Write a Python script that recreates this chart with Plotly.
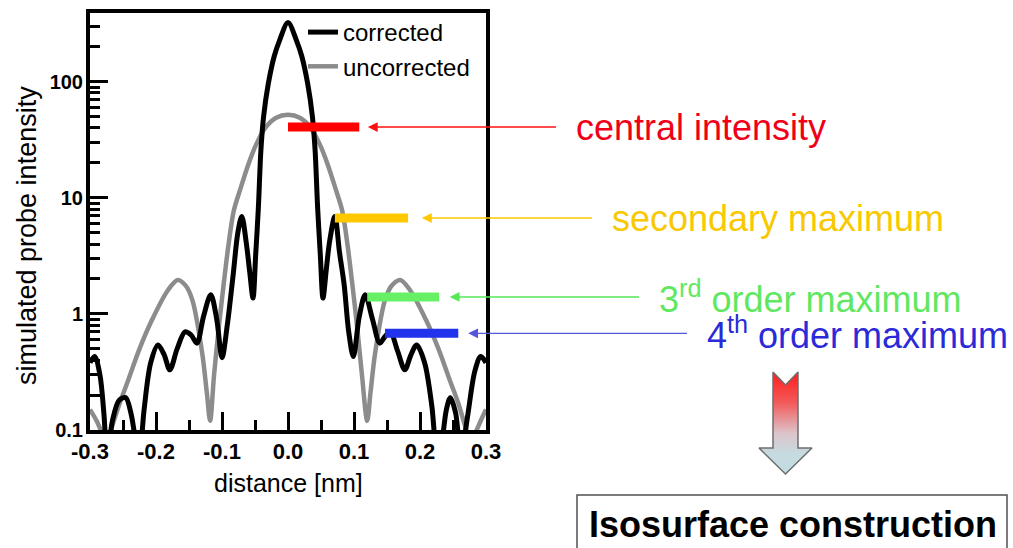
import numpy as np
import plotly.graph_objects as go

W, H = 1013, 548

# ---------------- data ----------------
x_corrected = [-0.300, -0.293, -0.285, -0.279, -0.274, -0.266, -0.256, -0.246, -0.238, -0.231,
               -0.226, -0.218, -0.208, -0.197, -0.188, -0.179, -0.168, -0.156, -0.147, -0.138,
               -0.128, -0.117, -0.108, -0.100, -0.092, -0.083, -0.076, -0.070, -0.063, -0.058,
               -0.053, -0.049, -0.045, -0.041, -0.037, -0.030, -0.021, -0.013, 0.000,
               0.013, 0.021, 0.030, 0.037, 0.041, 0.045, 0.049, 0.053, 0.058, 0.063,
               0.071, 0.078, 0.085, 0.092, 0.099, 0.108, 0.117, 0.128, 0.139, 0.147,
               0.155, 0.166, 0.177, 0.186, 0.195, 0.207, 0.218, 0.226, 0.233, 0.240,
               0.246, 0.254, 0.262, 0.272, 0.283, 0.292, 0.300]
y_corrected = [0.38, 0.43, 0.30, 0.14, 0.06, 0.12, 0.18, 0.19, 0.14, 0.08,
               0.05, 0.15, 0.38, 0.54, 0.45, 0.33, 0.50, 0.70, 0.66, 0.56,
               0.95, 1.46, 0.90, 0.42, 0.80, 2.2, 5.0, 6.9, 4.0, 2.3,
               1.37, 3.2, 8.0, 26, 50, 95, 165, 225, 323,
               225, 165, 95, 50, 26, 8.0, 3.2, 1.37, 2.4, 4.2,
               6.9, 3.4, 1.8, 0.70, 0.43, 0.95, 1.46, 0.90, 0.56, 0.64,
               0.70, 0.48, 0.33, 0.44, 0.54, 0.38, 0.16, 0.06, 0.08, 0.15,
               0.19, 0.14, 0.06, 0.13, 0.32, 0.43, 0.38]

x_uncorrected = [-0.300, -0.290, -0.282, -0.274, -0.266, -0.255, -0.242, -0.225, -0.206, -0.182,
                 -0.167, -0.155, -0.145, -0.130, -0.123, -0.118, -0.112, -0.105, -0.097, -0.090,
                 -0.082, -0.072, -0.060, -0.048, -0.033, -0.018, 0.000,
                 0.018, 0.033, 0.048, 0.060, 0.072, 0.082, 0.090, 0.097, 0.105,
                 0.112, 0.120, 0.125, 0.132, 0.147, 0.157, 0.170, 0.185, 0.209,
                 0.228, 0.245, 0.258, 0.268, 0.276, 0.284, 0.292, 0.300]
y_uncorrected = [0.15, 0.12, 0.095, 0.08, 0.11, 0.17, 0.27, 0.50, 0.89, 1.60,
                 1.96, 1.75, 1.32, 0.46, 0.21, 0.12, 0.30, 0.75, 1.9, 4.0,
                 7.8, 12.0, 19.5, 29, 41, 49, 52,
                 49, 41, 29, 19.5, 12.0, 7.8, 4.0, 1.9, 0.75,
                 0.30, 0.12, 0.21, 0.46, 1.32, 1.75, 1.96, 1.60, 0.89,
                 0.50, 0.27, 0.17, 0.11, 0.08, 0.095, 0.12, 0.15]

marker_labels = ["central intensity", "secondary maximum",
                 "3<sup>rd</sup> order maximum", "4<sup>th</sup> order maximum"]
marker_levels = [40.7, 6.7, 1.40, 0.68]
marker_x_start = [0.000, 0.071, 0.120, 0.147]
marker_x_end = [0.108, 0.182, 0.229, 0.258]
arrow_head_x = [0.121, 0.203, 0.245, 0.273]

x_ticks = [-0.3, -0.2, -0.1, 0.0, 0.1, 0.2, 0.3]
x_ticktext = ["-0.3", "-0.2", "-0.1", "0.0", "0.1", "0.2", "0.3"]
y_ticks = [0.1, 1, 10, 100]
y_ticktext = ["0.1", "1", "10", "100"]

# ---------------- styles / layout geometry ----------------
FONT = "Liberation Sans, Arial, sans-serif"
PX_L, PX_R, PX_T, PX_B = 90, 486, 13, 430
X_RANGE = [-0.3, 0.3]
Y_RANGE = [-1, 2.592]

marker_colors = ["#ff0000", "#ffc800", "#66f066", "#2233ee"]
arrow_colors = ["#ff1010", "#ffc800", "#55e855", "#5555dd"]
text_colors = ["#f00018", "#f8c800", "#5fe85f", "#2a2ad8"]
arrow_tail_px = [556, 592, 639, 687]

def fx(px):
    return px / W

def fy(py):
    return 1 - py / H

fig = go.Figure()

fig.add_trace(go.Scatter(x=x_uncorrected, y=y_uncorrected, mode="lines", name="uncorrected",
                         line=dict(color="#8c8c8c", width=4.5, shape="spline", smoothing=0.9),
                         legendrank=2))
fig.add_trace(go.Scatter(x=x_corrected, y=y_corrected, mode="lines", name="corrected",
                         line=dict(color="#000000", width=5, shape="spline", smoothing=0.9),
                         legendrank=1))

for xs, xe, lv, col in zip(marker_x_start, marker_x_end, marker_levels, marker_colors):
    fig.add_trace(go.Scatter(x=[xs, xe], y=[lv, lv], mode="lines", showlegend=False,
                             line=dict(color=col, width=9), hoverinfo="skip"))

# decorative down arrow (pixel overlay axes)
arrow_outline_x = [773, 785.5, 798, 798, 812, 785.5, 759, 773, 773]
arrow_outline_y = [372, 385, 372, 448, 448, 474, 448, 448, 372]
fig.add_trace(go.Scatter(x=arrow_outline_x, y=arrow_outline_y, xaxis="x2", yaxis="y2",
                         mode="lines", fill="toself", showlegend=False, hoverinfo="skip",
                         line=dict(color="#6e6e6e", width=1.5),
                         fillgradient=dict(type="vertical",
                                           colorscale=[[0, "#c2dde2"], [0.2, "#c6dbe0"],
                                                       [0.4, "#dcc4ca"], [0.7, "#f25a5a"],
                                                       [1, "#ff1c1c"]])))

minor_y = [m * 10.0 ** e for e in range(-1, 3) for m in range(2, 10) if m * 10.0 ** e < 390]

fig.update_layout(
    template="none",
    width=W, height=H,
    margin=dict(l=0, r=0, t=0, b=0, pad=0, autoexpand=False),
    paper_bgcolor="white", plot_bgcolor="rgba(0,0,0,0)",
    font=dict(family=FONT, color="black"),
    showlegend=True,
    legend=dict(x=fx(303), y=fy(10), xanchor="left", yanchor="top",
                bgcolor="rgba(0,0,0,0)", borderwidth=0, font=dict(size=24, family=FONT),
                itemwidth=30, tracegroupgap=0),
    xaxis=dict(domain=[fx(PX_L), fx(PX_R)], anchor="y", range=X_RANGE, automargin=False,
               tickvals=x_ticks, ticktext=x_ticktext,
               ticks="inside", ticklen=18, tickwidth=3, tickcolor="black",
               minor=dict(ticks="inside", ticklen=10, tickwidth=3, tickcolor="black", dtick=0.05),
               showline=True, linewidth=4, linecolor="black", mirror=True,
               showgrid=False, zeroline=False,
               tickfont=dict(size=22, family=FONT, weight="bold"), ticklabelstandoff=-1),
    yaxis=dict(domain=[fy(PX_B), fy(PX_T)], anchor="x", type="log", range=Y_RANGE, automargin=False,
               tickvals=y_ticks, ticktext=y_ticktext,
               ticks="inside", ticklen=18, tickwidth=3, tickcolor="black",
               minor=dict(ticks="inside", ticklen=10, tickwidth=2.5, tickcolor="black",
                          tickmode="array", tickvals=minor_y),
               showline=True, linewidth=4, linecolor="black", mirror=True,
               showgrid=False, zeroline=False,
               tickfont=dict(size=20, family=FONT, weight="bold"), ticklabelstandoff=-1),
    xaxis2=dict(domain=[0, 1], anchor="y2", range=[0, W], visible=False, fixedrange=True,
                automargin=False),
    yaxis2=dict(domain=[0, 1], anchor="x2", range=[H, 0], visible=False, fixedrange=True,
                automargin=False),
)

# axis titles
fig.add_annotation(text="distance [nm]", xref="paper", yref="paper", x=fx(288), y=fy(483),
                   showarrow=False, font=dict(size=25, family=FONT), xanchor="center", yanchor="middle")
fig.add_annotation(text="simulated probe intensity", xref="paper", yref="paper", x=fx(27), y=fy(236),
                   showarrow=False, textangle=-90, font=dict(size=27, family=FONT),
                   xanchor="center", yanchor="middle")

# pointer arrows with their labels
def head_px(xv):
    return PX_L + (xv - X_RANGE[0]) / (X_RANGE[1] - X_RANGE[0]) * (PX_R - PX_L)

for lab, hx, lv, tail, acol, tcol in zip(marker_labels, arrow_head_x, marker_levels,
                                          arrow_tail_px, arrow_colors, text_colors):
    fig.add_annotation(x=hx, y=np.log10(lv), xref="x", yref="y", text="&nbsp;&nbsp;" + lab,
                       showarrow=True, ax=tail - head_px(hx), ay=0,
                       xanchor="left", yanchor="middle", borderpad=0, borderwidth=0,
                       arrowhead=2, arrowsize=1.4, arrowwidth=1.4, arrowcolor=acol,
                       font=dict(size=36, family=FONT, color=tcol))

# result box
fig.add_shape(type="rect", xref="paper", yref="paper", x0=fx(577), x1=fx(1007), y0=fy(495), y1=-0.1,
              line=dict(color="#505050", width=1.5), fillcolor="white")
fig.add_annotation(text="<b>Isosurface construction</b>", xref="paper", yref="paper",
                   x=fx(793), y=fy(524), showarrow=False, xanchor="center", yanchor="middle",
                   font=dict(size=36, family=FONT, color="black"))

fig.write_html("out.html", config={"displayModeBar": False},
               post_script="document.body.style.margin='0';")
